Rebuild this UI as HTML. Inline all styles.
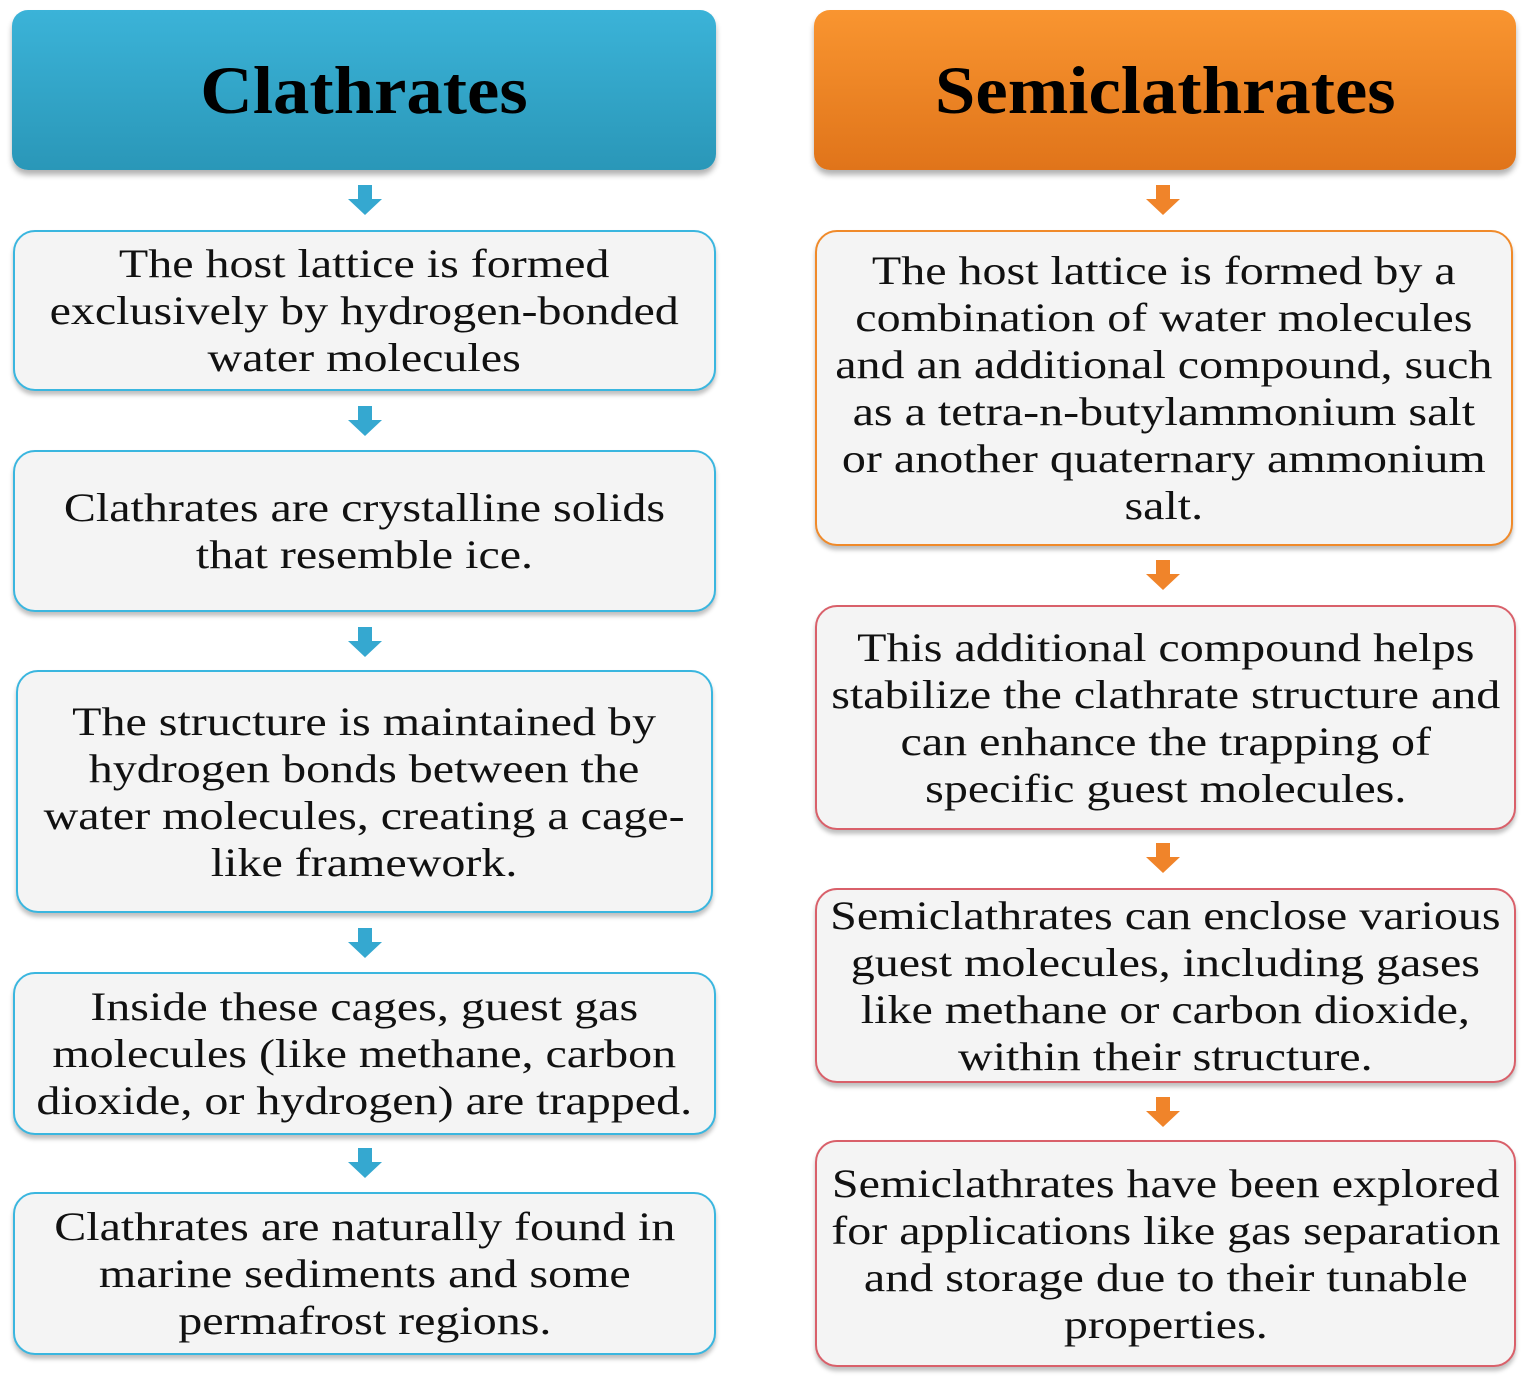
<!DOCTYPE html>
<html><head><meta charset="utf-8"><style>
body{margin:0;width:1529px;height:1381px;background:#fff;position:relative;overflow:hidden;font-family:"Liberation Serif",serif}
.h{position:absolute;top:10px;height:160px;border-radius:16px;display:flex;align-items:center;justify-content:center;font-weight:bold;font-size:68px;color:#000;box-shadow:0 5px 6px rgba(0,0,0,.3)}
.h span{display:inline-block;transform:scaleX(1.07)}
.b{position:absolute;background:#f4f4f4;border:2.5px solid;border-radius:22px;display:flex;align-items:center;justify-content:center;text-align:center;font-size:40px;line-height:47px;color:#111;box-sizing:border-box;box-shadow:0 4px 4px rgba(0,0,0,.25)}
.b span{display:inline-block;transform:scaleX(1.2);white-space:nowrap}
.bl{border-color:#3ab6df}.bo{border-color:#f08a2a}.br{border-color:#d9606a}
.a{position:absolute;width:0;height:0}
.a:before{content:"";position:absolute;left:-7px;top:0;width:14px;height:14px;background:var(--c)}
.a:after{content:"";position:absolute;left:-17px;top:14px;border-left:17px solid transparent;border-right:17px solid transparent;border-top:16px solid var(--c)}
</style></head><body>
<div class="h" style="left:12px;width:704px;background:linear-gradient(#3bb3d8,#2a97b8)"><span>Clathrates</span></div>
<div class="h" style="left:814px;width:702px;background:linear-gradient(#f99530,#e0741a)"><span>Semiclathrates</span></div>

<div class="a" style="left:365px;top:185px;--c:#35a8d0"></div>
<div class="a" style="left:365px;top:406px;--c:#35a8d0"></div>
<div class="a" style="left:365px;top:627px;--c:#35a8d0"></div>
<div class="a" style="left:365px;top:928px;--c:#35a8d0"></div>
<div class="a" style="left:365px;top:1148px;--c:#35a8d0"></div>

<div class="a" style="left:1163px;top:185px;--c:#f0842a"></div>
<div class="a" style="left:1163px;top:560px;--c:#f0842a"></div>
<div class="a" style="left:1163px;top:843px;--c:#f0842a"></div>
<div class="a" style="left:1163px;top:1097px;--c:#f0842a"></div>

<div class="b bl" style="left:13px;top:230px;width:703px;height:161px"><span>The host lattice is formed<br>exclusively by hydrogen-bonded<br>water molecules</span></div>
<div class="b bl" style="left:13px;top:450px;width:703px;height:162px"><span>Clathrates are crystalline solids<br>that resemble ice.</span></div>
<div class="b bl" style="left:16px;top:670px;width:697px;height:243px"><span>The structure is maintained by<br>hydrogen bonds between the<br>water molecules, creating a cage-<br>like framework.</span></div>
<div class="b bl" style="left:13px;top:972px;width:703px;height:163px"><span>Inside these cages, guest gas<br>molecules (like methane, carbon<br>dioxide, or hydrogen) are trapped.</span></div>
<div class="b bl" style="left:13px;top:1192px;width:703px;height:163px"><span>Clathrates are naturally found in<br>marine sediments and some<br>permafrost regions.</span></div>

<div class="b bo" style="left:815px;top:230px;width:698px;height:316px"><span>The host lattice is formed by a<br>combination of water molecules<br>and an additional compound, such<br>as a tetra-n-butylammonium salt<br>or another quaternary ammonium<br>salt.</span></div>
<div class="b br" style="left:815px;top:605px;width:701px;height:225px"><span>This additional compound helps<br>stabilize the clathrate structure and<br>can enhance the trapping of<br>specific guest molecules.</span></div>
<div class="b br" style="left:815px;top:888px;width:701px;height:195px"><span>Semiclathrates can enclose various<br>guest molecules, including gases<br>like methane or carbon dioxide,<br>within their structure.</span></div>
<div class="b br" style="left:815px;top:1140px;width:701px;height:227px"><span>Semiclathrates have been explored<br>for applications like gas separation<br>and storage due to their tunable<br>properties.</span></div>
</body></html>
